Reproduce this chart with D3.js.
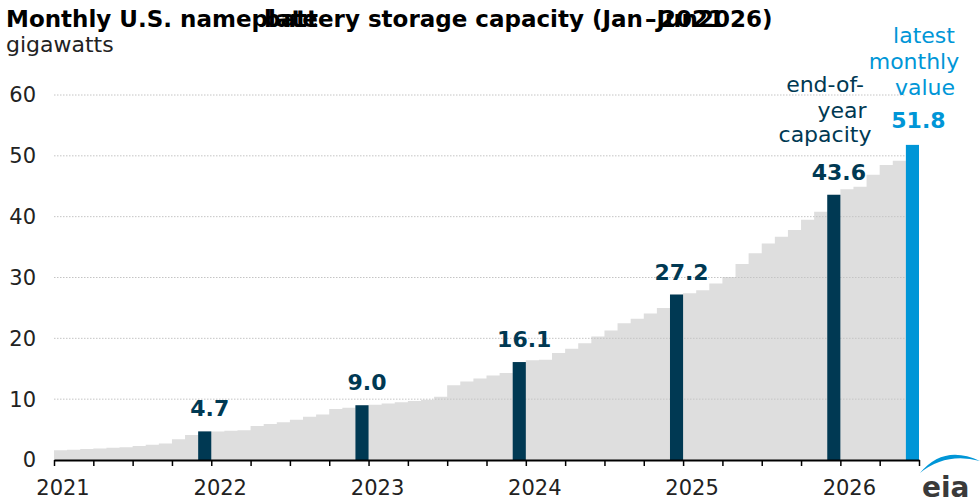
<!DOCTYPE html>
<html>
<head>
<meta charset="utf-8">
<script src="https://cdn.jsdelivr.net/npm/d3@7"></script>
<style>
  body { margin: 0; background: #fff; }
  text { font-family: "DejaVu Sans", sans-serif; }
</style>
</head>
<body>
<svg></svg>
<script>
var width  = 980,
    height = 504;

// monthly nameplate capacity, GW
var cap2021 = [1.6, 1.7, 1.8, 1.9, 2.0, 2.1, 2.3, 2.5, 2.7, 3.4, 4.1, 4.7];
var cap2022 = [4.7, 4.8, 4.9, 5.6, 5.9, 6.2, 6.6, 7.1, 7.5, 8.4, 8.6, 9.0];
var cap2023 = [9.1, 9.3, 9.5, 9.7, 9.9, 10.4, 12.3, 12.9, 13.4, 13.9, 14.3, 16.1];
var cap2024 = [16.4, 16.5, 17.6, 18.3, 19.2, 20.3, 21.3, 22.5, 23.2, 24.1, 25.0, 27.2];
var cap2025 = [27.4, 27.9, 29.0, 30.1, 32.2, 34.0, 35.6, 36.7, 37.8, 39.5, 40.8, 43.6];
var cap2026 = [44.5, 44.9, 46.9, 48.5, 49.2, 51.8];

var yearLabels = ["2021", "2022", "2023", "2024", "2025", "2026"];
var yTicks     = [0, 10, 20, 30, 40, 50, 60];

var values = [].concat(cap2021, cap2022, cap2023, cap2024, cap2025, cap2026);
var nMonths = values.length;
var last = nMonths - 1;
// december of each full year
var endOfYear = d3.range(11, nMonths - 1, 12);

var navy = "#003953",
    blue = "#0096d7";

var x = d3.scaleLinear().domain([0, nMonths]).range([54, 919]);
var y = d3.scaleLinear().domain([0, 60]).range([460, 95]);

var svg = d3.select("svg")
  .attr("width", width)
  .attr("height", height);

// title (pieces overlap like in the original)
var title = svg.append("g")
  .attr("font-weight", "bold")
  .attr("font-size", 23)
  .attr("fill", "#000");
title.append("text").attr("x", 6).attr("y", 27).text("Monthly U.S. nameplate");
title.append("text").attr("x", 264).attr("y", 27).text("battery storage capacity (Jan");
title.append("text").attr("x", 645).attr("y", 27).text("\u2013Jun");
title.append("text").attr("x", 660).attr("y", 27).text("2021");
title.append("text").attr("x", 698).attr("y", 27).text("2026)");

svg.append("text")
  .attr("x", 6).attr("y", 52)
  .attr("font-size", 22).attr("fill", "#222")
  .text("gigawatts");

// gray monthly area
var areaData = values.map(function(v, i) { return [i, v]; }).concat([[nMonths, values[last]]]);
var area = d3.area()
  .x(function(d) { return x(d[0]); })
  .y0(y(0))
  .y1(function(d) { return y(d[1]); })
  .curve(d3.curveStepAfter);

svg.append("path")
  .datum(areaData)
  .attr("d", area)
  .attr("fill", "#dedede");

// grid
svg.append("g")
  .selectAll("line")
  .data(yTicks.slice(1))
  .enter()
    .append("line")
    .attr("x1", x(0)).attr("x2", x(last))
    .attr("y1", function(d) { return y(d); })
    .attr("y2", function(d) { return y(d); })
    .attr("stroke", "#c4c4c4")
    .attr("stroke-width", 1)
    .attr("stroke-dasharray", "1.5,1.5");

// y labels
svg.append("g")
  .selectAll("text")
  .data(yTicks)
  .enter()
    .append("text")
    .attr("x", 36)
    .attr("y", function(d) { return y(d); })
    .attr("dy", "0.35em")
    .attr("text-anchor", "end")
    .attr("font-size", 21)
    .attr("fill", "#222")
    .text(function(d) { return d; });

// end-of-year bars
svg.append("g")
  .selectAll("rect")
  .data(endOfYear)
  .enter()
    .append("rect")
    .attr("x", function(i) { return x(i); })
    .attr("width", function(i) { return x(i + 1) - x(i); })
    .attr("y", function(i) { return y(values[i]); })
    .attr("height", function(i) { return y(0) - y(values[i]); })
    .attr("fill", navy);

svg.append("g")
  .selectAll("text")
  .data(endOfYear)
  .enter()
    .append("text")
    .attr("x", function(i) { return x(i + 0.5) + 5; })
    .attr("y", function(i) { return y(values[i]) - 15; })
    .attr("text-anchor", "middle")
    .attr("font-size", 22)
    .attr("font-weight", "bold")
    .attr("fill", navy)
    .text(function(i) { return values[i].toFixed(1); });

// latest month
svg.append("rect")
  .attr("x", x(last))
  .attr("width", x(last + 1) - x(last))
  .attr("y", y(values[last]))
  .attr("height", y(0) - y(values[last]))
  .attr("fill", blue);

svg.append("text")
  .attr("x", x(last + 0.5) + 6)
  .attr("y", y(values[last]) - 17)
  .attr("text-anchor", "middle")
  .attr("font-size", 22)
  .attr("font-weight", "bold")
  .attr("fill", blue)
  .text(values[last].toFixed(1));

// annotations
var navyNote = [["end-of-", 825, 92], ["year", 842, 118], ["capacity", 825, 142]];
var blueNote = [["latest", 924, 43], ["monthly", 914, 69], ["value", 925, 95]];

svg.append("g")
  .selectAll("text")
  .data(navyNote)
  .enter()
    .append("text")
    .attr("x", function(d) { return d[1]; })
    .attr("y", function(d) { return d[2]; })
    .attr("text-anchor", "middle")
    .attr("font-size", 22)
    .attr("fill", navy)
    .text(function(d) { return d[0]; });

svg.append("g")
  .selectAll("text")
  .data(blueNote)
  .enter()
    .append("text")
    .attr("x", function(d) { return d[1]; })
    .attr("y", function(d) { return d[2]; })
    .attr("text-anchor", "middle")
    .attr("font-size", 22)
    .attr("fill", blue)
    .text(function(d) { return d[0]; });

// x axis, quarterly ticks
var xAxis = svg.append("g")
  .attr("transform", "translate(0," + y(0) + ")")
  .call(d3.axisBottom(x)
    .tickValues(d3.range(0, nMonths + 1, 3))
    .tickSize(6)
    .tickSizeOuter(0)
    .tickFormat(""));
xAxis.select(".domain").attr("stroke", "#000").attr("stroke-width", 2);
xAxis.selectAll(".tick line").attr("stroke", "#000").attr("stroke-width", 1.5);

svg.append("g")
  .selectAll("text")
  .data(yearLabels)
  .enter()
    .append("text")
    .attr("x", function(d, i) { return x(i * 12) + 9; })
    .attr("y", 495)
    .attr("text-anchor", "middle")
    .attr("font-size", 21)
    .attr("fill", "#222")
    .text(function(d) { return d; });

// eia logo
svg.append("path")
  .attr("d", "M920,473 Q944,444 980,461 Q946,452 920,473 Z")
  .attr("fill", blue);
svg.append("text")
  .attr("x", 922).attr("y", 497)
  .attr("font-size", 28)
  .attr("font-weight", "bold")
  .attr("fill", "#3a3a3a")
  .text("eia");
</script>
</body>
</html>
